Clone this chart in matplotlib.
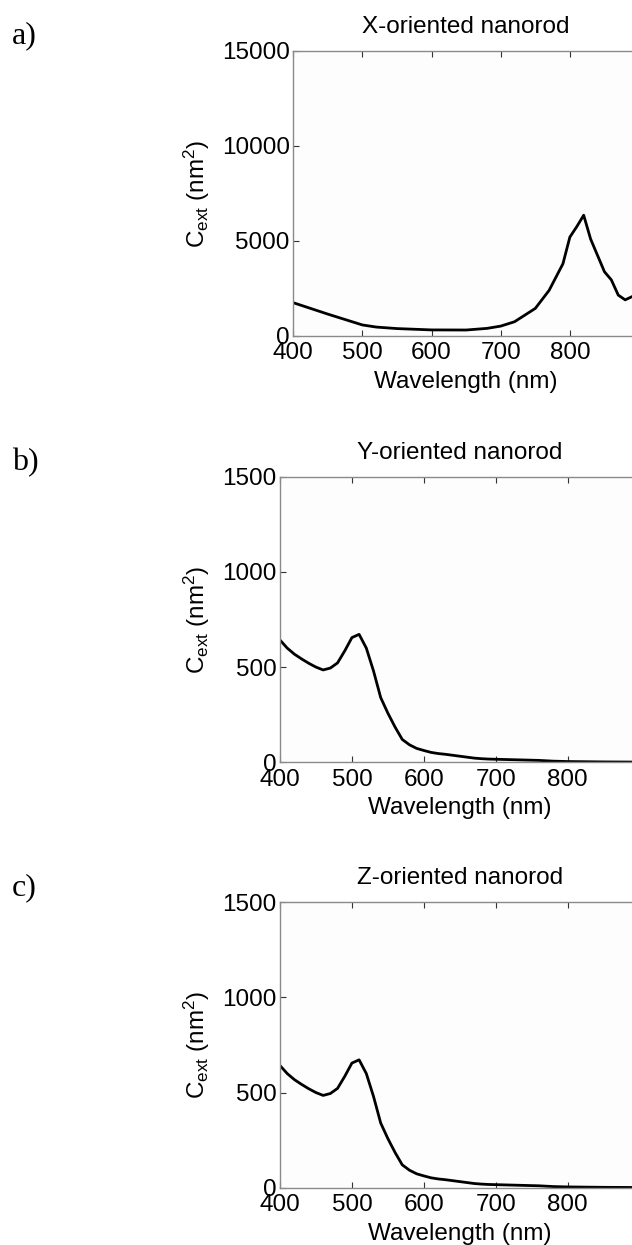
import matplotlib
matplotlib.use("Agg")
import matplotlib.pyplot as plt

# ---------------- data ----------------
wl_x = [400, 450, 500, 520, 550, 600, 650, 680, 700, 720, 750, 770, 790,
        800, 810, 820, 830, 850, 860, 870, 880, 890, 900]
cext_x = [1750, 1150, 580, 470, 390, 320, 315, 400, 520, 750, 1450, 2400, 3800,
          5200, 5750, 6350, 5100, 3380, 2950, 2150, 1900, 2070, 2300]

wl_yz = [400, 410, 420, 430, 440, 450, 460, 470, 480, 490, 500, 510, 520, 530,
         540, 550, 560, 570, 580, 590, 600, 610, 620, 630, 640, 650, 660, 670,
         680, 690, 700, 720, 740, 760, 780, 800, 850, 900]
cext_y = [642, 600, 568, 543, 520, 500, 485, 495, 522, 585, 655, 672, 600, 480,
          340, 258, 185, 120, 92, 73, 62, 52, 46, 42, 37, 32, 27, 22,
          19, 17, 16, 14, 12, 10, 6, 4, 2, 1]
cext_z = list(cext_y)

titles = ["X-oriented nanorod", "Y-oriented nanorod", "Z-oriented nanorod"]
panel_labels = ["a)", "b)", "c)"]
ylims = [15000, 1500, 1500]
yticks = [[0, 5000, 10000, 15000], [0, 500, 1000, 1500], [0, 500, 1000, 1500]]
xticks = [400, 500, 600, 700, 800]
xlabel = "Wavelength (nm)"
ylabel = r"C$_\mathregular{ext}$ (nm$^\mathregular{2}$)"

# ---------------- style ----------------
plt.rcParams['font.family'] = ['Liberation Sans', 'DejaVu Sans']
plt.rcParams['mathtext.fontset'] = 'custom'
plt.rcParams['mathtext.rm'] = 'Liberation Sans'
plt.rcParams['mathtext.it'] = 'Liberation Sans:italic'
plt.rcParams['mathtext.bf'] = 'Liberation Sans:bold'

W, H = 632, 1245
fig = plt.figure(figsize=(W / 100, H / 100), dpi=100)

positions = [
    (293.3, 639.0, 50.7, 336.0),
    (280.0, 639.6, 476.7, 762.3),
    (280.0, 639.6, 902.3, 1187.7),
]
label_pos = [(12, 43), (12, 470), (12, 895)]

series = [(wl_x, cext_x), (wl_yz, cext_y), (wl_yz, cext_z)]
fs = 17.5

for i, (l, r, t, b) in enumerate(positions):
    ax = fig.add_axes([l / W, 1 - b / H, (r - l) / W, (b - t) / H])
    ax.set_facecolor('#fdfdfd')
    x, y = series[i]
    ax.plot(x, y, color='black', lw=2.0, clip_on=True)
    ax.set_xlim(400, 900)
    ax.set_ylim(0, ylims[i])
    ax.set_xticks(xticks)
    ax.set_xticklabels([str(v) for v in xticks])
    ax.set_yticks(yticks[i])
    ax.set_yticklabels([str(v) for v in yticks[i]])
    ax.tick_params(direction='in', length=4, width=0.8, color='#333333',
                   top=True, right=True, labelsize=fs)
    ax.tick_params(axis='x', pad=4.5)
    ax.tick_params(axis='y', pad=2.5)
    for s in ax.spines.values():
        s.set_color('#8a8a8a')
        s.set_linewidth(1.0)
    ax.set_title(titles[i], fontsize=fs, pad=13)
    ax.set_xlabel(xlabel, fontsize=fs, labelpad=5)
    ax.set_ylabel(ylabel, fontsize=fs, labelpad=7)
    fig.text(label_pos[i][0] / W, 1 - label_pos[i][1] / H, panel_labels[i],
             fontsize=23, family='Liberation Serif', ha='left', va='baseline')

fig.savefig("out.png", dpi=100, facecolor='white')
